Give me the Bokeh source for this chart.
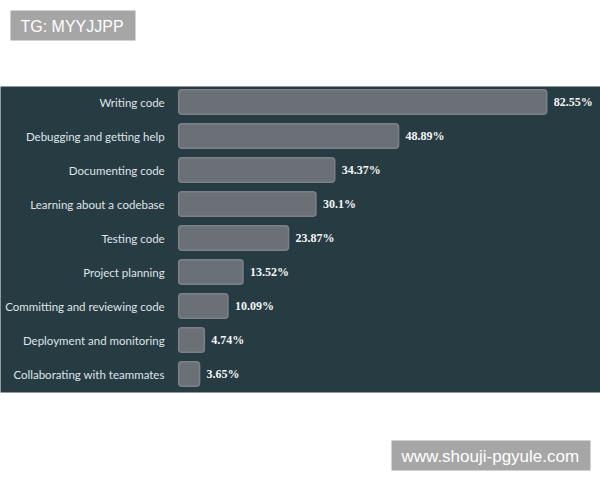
from bokeh.plotting import figure
from bokeh.models import ColumnDataSource, Range1d, BoxAnnotation, Label
from bokeh.core.properties import value
from bokeh.embed import file_html
from bokeh.resources import INLINE

categories = [
    "Writing code",
    "Debugging and getting help",
    "Documenting code",
    "Learning about a codebase",
    "Testing code",
    "Project planning",
    "Committing and reviewing code",
    "Deployment and monitoring",
    "Collaborating with teammates",
]
percentages = [82.55, 48.89, 34.37, 30.1, 23.87, 13.52, 10.09, 4.74, 3.65]
value_labels = ["82.55%", "48.89%", "34.37%", "30.1%", "23.87%", "13.52%", "10.09%", "4.74%", "3.65%"]
watermark_top = "TG: MYYJJPP"
watermark_bottom = "www.shouji-pgyule.com"

# layout scale helpers (pixel -> data)
PX_PER_UNIT = 4.4
ZERO_PX = 183.0
ROW0_PX = 101.5
ROW_PX = 34.0


def dx(px):
    return (px - ZERO_PX) / PX_PER_UNIT


def dy(py):
    return (py - ROW0_PX) / ROW_PX


rows = list(range(len(categories)))
src = ColumnDataSource(dict(
    y=rows,
    cat=categories,
    val=percentages,
    lab=value_labels,
    left=[-1.1] * len(rows),
))

p = figure(
    width=600, height=480,
    x_range=Range1d(dx(0), dx(600)),
    y_range=Range1d(dy(480), dy(0)),
    output_backend="svg", toolbar_location=None,
    x_axis_location=None, y_axis_location=None,
    min_border=0, outline_line_color=None,
    background_fill_color="white", border_fill_color="white",
)
p.grid.visible = False

# dark panel
p.add_layout(BoxAnnotation(left=dx(-5), right=dx(605), top=dy(86), bottom=dy(392),
                           fill_color="#273b43", fill_alpha=1.0, line_color=None,
                           level="underlay"))

p.hbar(y="y", left="left", right="val", height=0.72, source=src,
       fill_color="#6b7077", line_color="#7b8189", line_width=1.5,
       border_radius=3)

p.text(x="left", y="y", text="cat", source=src, x_offset=-14,
       text_align="right", text_baseline="middle",
       text_color="#dfe4e7", text_font=value("Lato"), text_font_size="11.5px")

p.text(x="val", y="y", text="lab", source=src, x_offset=7,
       text_align="left", text_baseline="middle",
       text_color="#f4f6f7", text_font=value("Liberation Serif"),
       text_font_size="12px", text_font_style="bold")

# watermarks
p.add_layout(BoxAnnotation(left=dx(10), right=dx(135), top=dy(10), bottom=dy(40),
                           fill_color="#a6a6a6", fill_alpha=1.0, line_color=None))
p.add_layout(Label(x=dx(20), y=dy(25.5), text=watermark_top, text_baseline="middle",
                   text_color="white", text_font="Liberation Sans", text_font_size="16px"))
p.add_layout(BoxAnnotation(left=dx(391), right=dx(590), top=dy(440), bottom=dy(470),
                           fill_color="#a6a6a6", fill_alpha=1.0, line_color=None))
p.add_layout(Label(x=dx(401), y=dy(455.5), text=watermark_bottom, text_baseline="middle",
                   text_color="white", text_font="Liberation Sans", text_font_size="17px"))

open("out.html", "w").write(file_html(p, INLINE))
